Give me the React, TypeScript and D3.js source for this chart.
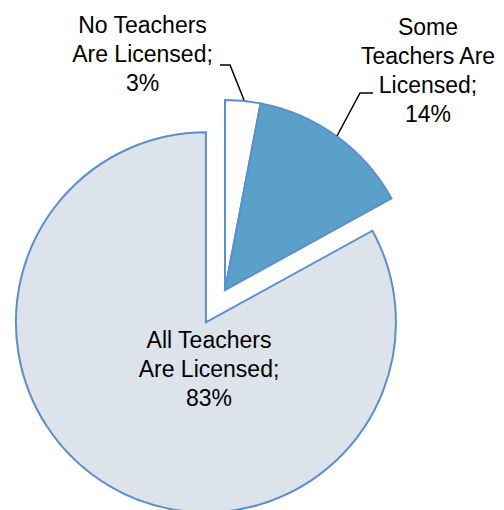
import React from "react";
import * as d3 from "d3";

const categories = ["No Teachers Are Licensed", "Some Teachers Are Licensed", "All Teachers Are Licensed"];
const values = [3, 14, 83];
const labelLines = [
  ["No Teachers", "Are Licensed;", "3%"],
  ["Some", "Teachers Are", "Licensed;", "14%"],
  ["All Teachers", "Are Licensed;", "83%"],
];
const explode = [0, 0, 37.5];
const fills = ["#ffffff", "#5ba0c8", "#dde3ea"];

const W = 504;
const H = 510;
const cx = 225;
const cy = 290;
const R = 190;

export default function App() {
  const pie = d3.pie<number>().sort(null).startAngle(0).endAngle(2 * Math.PI);
  const arcs = pie(values);
  const arc = d3.arc<d3.PieArcDatum<number>>().innerRadius(0).outerRadius(R);

  const labelPos = [
    { x: 142.5, y: 33 },
    { x: 428, y: 35 },
    { x: 209, y: 348 },
  ];
  const lh = 29;
  const leaders = [
    [[220, 65], [230, 65], [244, 100]],
    [[373, 93], [360, 93], [337, 136]],
  ];
  const line = d3.line();

  return (
    <svg width={W} height={H} style={{ position: "absolute", left: 0, top: 0 }}>
      <rect width={W} height={H} fill="#ffffff" />
      {arcs.map((a, i) => {
        const mid = (a.startAngle + a.endAngle) / 2;
        const dx = Math.sin(mid) * explode[i];
        const dy = -Math.cos(mid) * explode[i];
        return (
          <path
            key={categories[i]}
            d={arc(a) || ""}
            transform={`translate(${cx + dx},${cy + dy})`}
            fill={fills[i]}
            stroke="#5b8fcc"
            strokeWidth={2}
            strokeLinejoin="miter"
          />
        );
      })}
      {leaders.map((pts, i) => (
        <path key={i} d={line(pts as [number, number][]) || ""} fill="none" stroke="#000" strokeWidth={1.5} />
      ))}
      {labelLines.map((lines, i) => (
        <text
          key={i}
          textAnchor="middle"
          fontFamily="Liberation Sans, Arial, sans-serif"
          fontSize={23}
          fill="#000"
        >
          {lines.map((t, j) => (
            <tspan key={j} x={labelPos[i].x} y={labelPos[i].y + j * lh}>
              {t}
            </tspan>
          ))}
        </text>
      ))}
    </svg>
  );
}
